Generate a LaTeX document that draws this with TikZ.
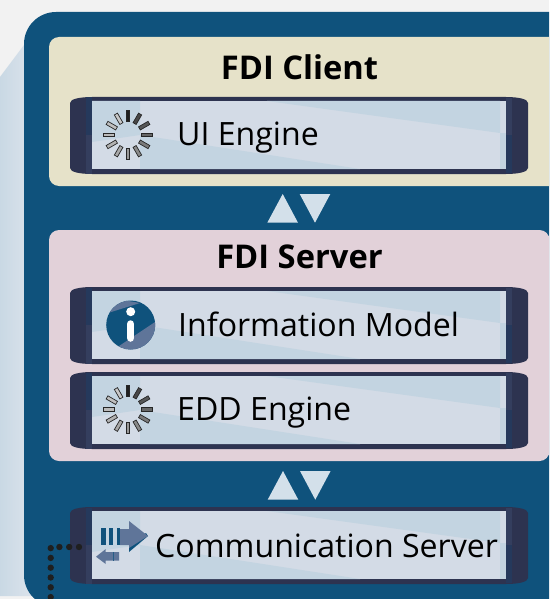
\documentclass[tikz,border=0pt]{standalone}
\usepackage{fontspec}
\setmainfont{Open Sans}
\definecolor{bgc}{HTML}{F2F2F2}
\definecolor{navy}{HTML}{0F527C}
\definecolor{clientc}{HTML}{E6E2C9}
\definecolor{serverc}{HTML}{E2D1D9}
\definecolor{lightf}{HTML}{D3DBE6}
\definecolor{bluef}{HTML}{C3D4E1}
\definecolor{darkb}{HTML}{2D3350}
\definecolor{darkc}{HTML}{25395C}
\definecolor{darkd}{HTML}{343E5E}
\definecolor{tri}{HTML}{D3E0EA}
\definecolor{slate}{HTML}{5F7599}
\tikzset{
  paneltitle/.style={font=\fontsize{32.7}{38}\selectfont\bfseries,text=black,inner sep=0pt},
  barlabel/.style={font=\fontsize{32.1}{38}\selectfont,text=black,inner sep=0pt,anchor=base west},
  tribox/.style={fill=tri,draw=none},
}
\newcommand{\fdibar}[1]{%
  \begin{scope}[shift={(0,#1)}]
    \fill[darkb] (70,6) .. controls (70,2) and (80,0) .. (92,0) -- (506,0)
      .. controls (518,0) and (528,2) .. (528,6) -- (528,71)
      .. controls (528,75) and (518,77) .. (506,77) -- (92,77)
      .. controls (80,77) and (70,75) .. (70,71) -- cycle;
    \fill[darkc] (86,0.5) rectangle (92,38);
    \fill[darkd] (86,38) rectangle (92,76.5);
    \fill[darkd] (506,1) rectangle (512,38);
    \fill[darkc] (506,38) rectangle (512,76);
    \fill[lightf] (92,4) rectangle (506,72);
    \fill[bluef] (92,4) -- (140,4) -- (140,38) -- (92,45) -- cycle;
    \fill[bluef] (140,38) -- (360,72) -- (140,72) -- cycle;
    \fill[bluef] (267,4) -- (500,4) -- (500,36) -- cycle;
    \fill[bluef] (500,36) -- (506,36) -- (506,72) -- (500,72) -- cycle;
  \end{scope}}
\newcommand{\fdispinner}[2]{%
  \begin{scope}[shift={(#1,#2)}]
    \foreach \i/\c in {0/88,1/72,2/66,3/60,4/52,5/46,6/40,7/34,8/30,9/27,10/25,11/22}{
      \fill[black!\c!white,draw=black!85,line width=.7pt,rotate=-\i*30]
        (-1.8,-24.2) rectangle (1.8,-13.2);
    }
  \end{scope}}
\begin{document}
\begin{tikzpicture}[x=1pt,y=-1pt]
\useasboundingbox (0,0) rectangle (549,599);
\clip (0,0) rectangle (549,599);
\fill[bgc] (0,0) rectangle (549,599);
\shade[left color=bluef!90!white,right color=lightf!70!white] (0,77) -- (24,45) -- (40,45) -- (40,596) -- (0,596) -- cycle;
\fill[navy,rounded corners=32pt] (24,12) rectangle (600,607);
\fill[clientc,rounded corners=10pt] (49,37) rectangle (570,186);
\fill[serverc,rounded corners=10pt] (49,230) rectangle (549.5,461);
\node[paneltitle] (clienttitle) at (299.5,67) {FDI Client};
\node[paneltitle] (servertitle) at (299.5,257) {FDI Server};
\fdibar{97}
\fdibar{287}
\fdibar{372}
\fdibar{507}
\fdispinner{128}{135}
\fdispinner{128}{409.5}
% info icon
\begin{scope}
  \clip (130.7,325) circle (24.5);
  \fill[navy] (106,300) rectangle (156,350);
  \fill[slate] (108,313) -- (140,303) -- (123,300) -- (106,306) -- cycle;
  \fill[slate] (113,350) -- (155,322) -- (157,352) -- cycle;
\end{scope}
\fill[white] (130.7,311.7) circle (4.5);
\draw[white,line width=7.5pt,line cap=round] (130.7,324) -- (130.7,338);
% communication icon
\fill[navy] (101,527.7) rectangle (105.5,545);
\fill[navy] (109,527.7) rectangle (113.3,545);
\fill[navy] (116.7,527.7) rectangle (120,545);
\fill[navy] (129,552) -- (148,536) -- (146,533) -- (129,546) -- cycle;
\fill[slate] (120,529) -- (129,529) -- (129,521) -- (148,536) -- (129,548) -- (129,545) -- (120,545) -- cycle;
\fill[slate] (96,556.7) -- (105.7,549) -- (105.7,552) -- (119,552) -- (119,560.7) -- (105.7,560.7) -- (105.7,564) -- cycle;
\fill[navy!70!slate] (112.7,552) rectangle (113.6,560.7);
% labels
\node[barlabel] (uilabel) at (177,146) {UI Engine};
\node[barlabel] (infolabel) at (178,336) {Information Model};
\node[barlabel] (eddlabel) at (177,420) {EDD Engine};
\node[barlabel] (commlabel) at (155,557) {Communication Server};
% arrows between layers
\fill[tribox] (282.7,194) -- (298,222.7) -- (267.3,222.7) -- cycle;
\fill[tribox] (299.7,194) -- (330.3,194) -- (315,222.7) -- cycle;
\fill[tribox] (283,471) -- (298.3,499.7) -- (267.7,499.7) -- cycle;
\fill[tribox] (300,471) -- (330.6,471) -- (315.3,499.7) -- cycle;
% dotted connector
\coordinate (dotstart) at (79,547);
\coordinate (dotcorner) at (50.7,547);
\coordinate (dotend) at (50.7,605);
\draw[black!88,line width=6.4pt,line cap=round,dash pattern=on 0pt off 9.8pt] (dotstart) -- (dotcorner) -- (dotend);
\end{tikzpicture}
\end{document}
